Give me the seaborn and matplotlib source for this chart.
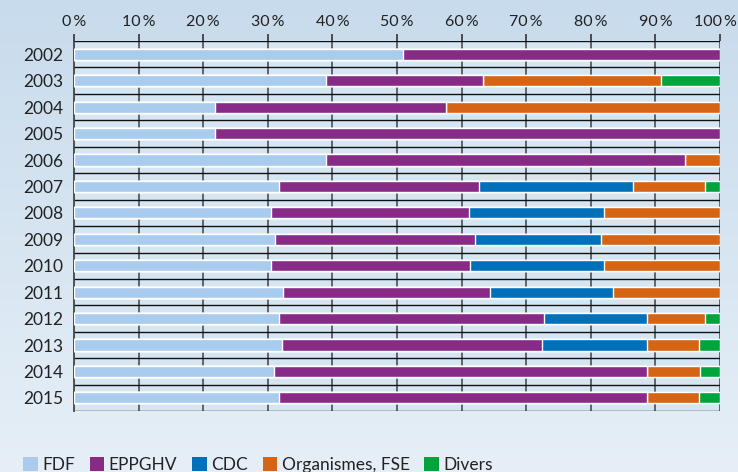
import numpy as np
import pandas as pd
import seaborn as sns
import matplotlib.pyplot as plt
from matplotlib.patches import Patch
from matplotlib.colors import LinearSegmentedColormap
from matplotlib.transforms import ScaledTranslation

years = [str(y) for y in range(2002, 2016)]
fdf = [50.9, 39.0, 21.8, 21.8, 39.0, 31.7, 30.5, 31.1, 30.5, 32.3, 31.7, 32.2, 31.0, 31.7]
eppghv = [49.1, 24.3, 35.8, 78.2, 55.6, 31.0, 30.7, 30.9, 30.8, 32.1, 41.0, 40.2, 57.7, 57.0]
cdc = [0, 0, 0, 0, 0, 23.8, 20.8, 19.6, 20.7, 19.1, 16.0, 16.3, 0, 0]
organismes = [0, 27.5, 42.4, 0, 5.4, 11.2, 18.0, 18.4, 18.0, 16.5, 9.0, 8.0, 8.2, 8.0]
divers = [0, 9.2, 0, 0, 0, 2.3, 0, 0, 0, 0, 2.3, 3.3, 3.1, 3.3]

series = ["FDF", "EPPGHV", "CDC", "Organismes, FSE", "Divers"]
colors = ["#a9cbee", "#872b87", "#0070bb", "#d56515", "#00a33c"]

df = pd.DataFrame({"annee": years, "FDF": fdf, "EPPGHV": eppghv, "CDC": cdc,
                   "Organismes, FSE": organismes, "Divers": divers})
cum = df[series].cumsum(axis=1)

sns.set_style("white")
plt.rcParams['font.family'] = ['Lato', 'DejaVu Sans']

fig = plt.figure(figsize=(7.38, 4.72), dpi=100)

# fond en degrade
bg = fig.add_axes([0, 0, 1, 1], zorder=-10)
grad = np.linspace(0, 1, 256).reshape(-1, 1)
cm = LinearSegmentedColormap.from_list("bg", ["#c8dbec", "#e6eff7"])
bg.imshow(grad, aspect="auto", cmap=cm, extent=[0, 1, 0, 1])
bg.axis("off")

ax = fig.add_axes([0.1003, 0.129, 0.8753, 0.784])
ax.set_facecolor("#d6e5f2")

# barres empilees : on dessine du cumul le plus grand au plus petit
for name, col in zip(series[::-1], colors[::-1]):
    sns.barplot(x=cum[name], y=df["annee"], orient="h", color=col,
                width=0.42, saturation=1, ax=ax, zorder=3)

ax.set_xlim(0, 100)
ax.set_ylim(13.5, -0.5)
ax.xaxis.tick_top()
ax.set_xticks(range(0, 101, 10))
ax.set_xticklabels([f"{v}\u2009%" for v in range(0, 101, 10)], fontsize=11.5, color="#222222")
ax.tick_params(axis="x", length=5, width=1.2, color="#333333", pad=4)
ax.tick_params(axis="y", length=0, pad=8, labelsize=12.5, labelcolor="#222222")
ax.set_xlabel("")
ax.set_ylabel("")

# le dernier libelle deborde un peu, on le rentre
last = ax.get_xticklabels()[-1]
last.set_transform(last.get_transform() + ScaledTranslation(-5 / 100, 0, fig.dpi_scale_trans))

for v in range(10, 101, 10):
    ax.axvline(v, color="#555a60", lw=1.3, zorder=1)
for k in range(15):
    ax.axhline(k - 0.5, color="#111111", lw=1, zorder=2)

for s in ["top", "right", "bottom"]:
    ax.spines[s].set_visible(False)
ax.spines["left"].set_color("#444444")
ax.spines["left"].set_linewidth(1.3)

handles = [Patch(facecolor=c, edgecolor="none") for c in colors]
fig.legend(handles, series, loc="lower left", bbox_to_anchor=(0.01, -0.035),
           ncol=5, frameon=False, fontsize=12.5, handlelength=0.85, handleheight=0.85,
           handletextpad=0.25, columnspacing=0.85, labelcolor="#222222")

fig.savefig("out.png", dpi=100)
